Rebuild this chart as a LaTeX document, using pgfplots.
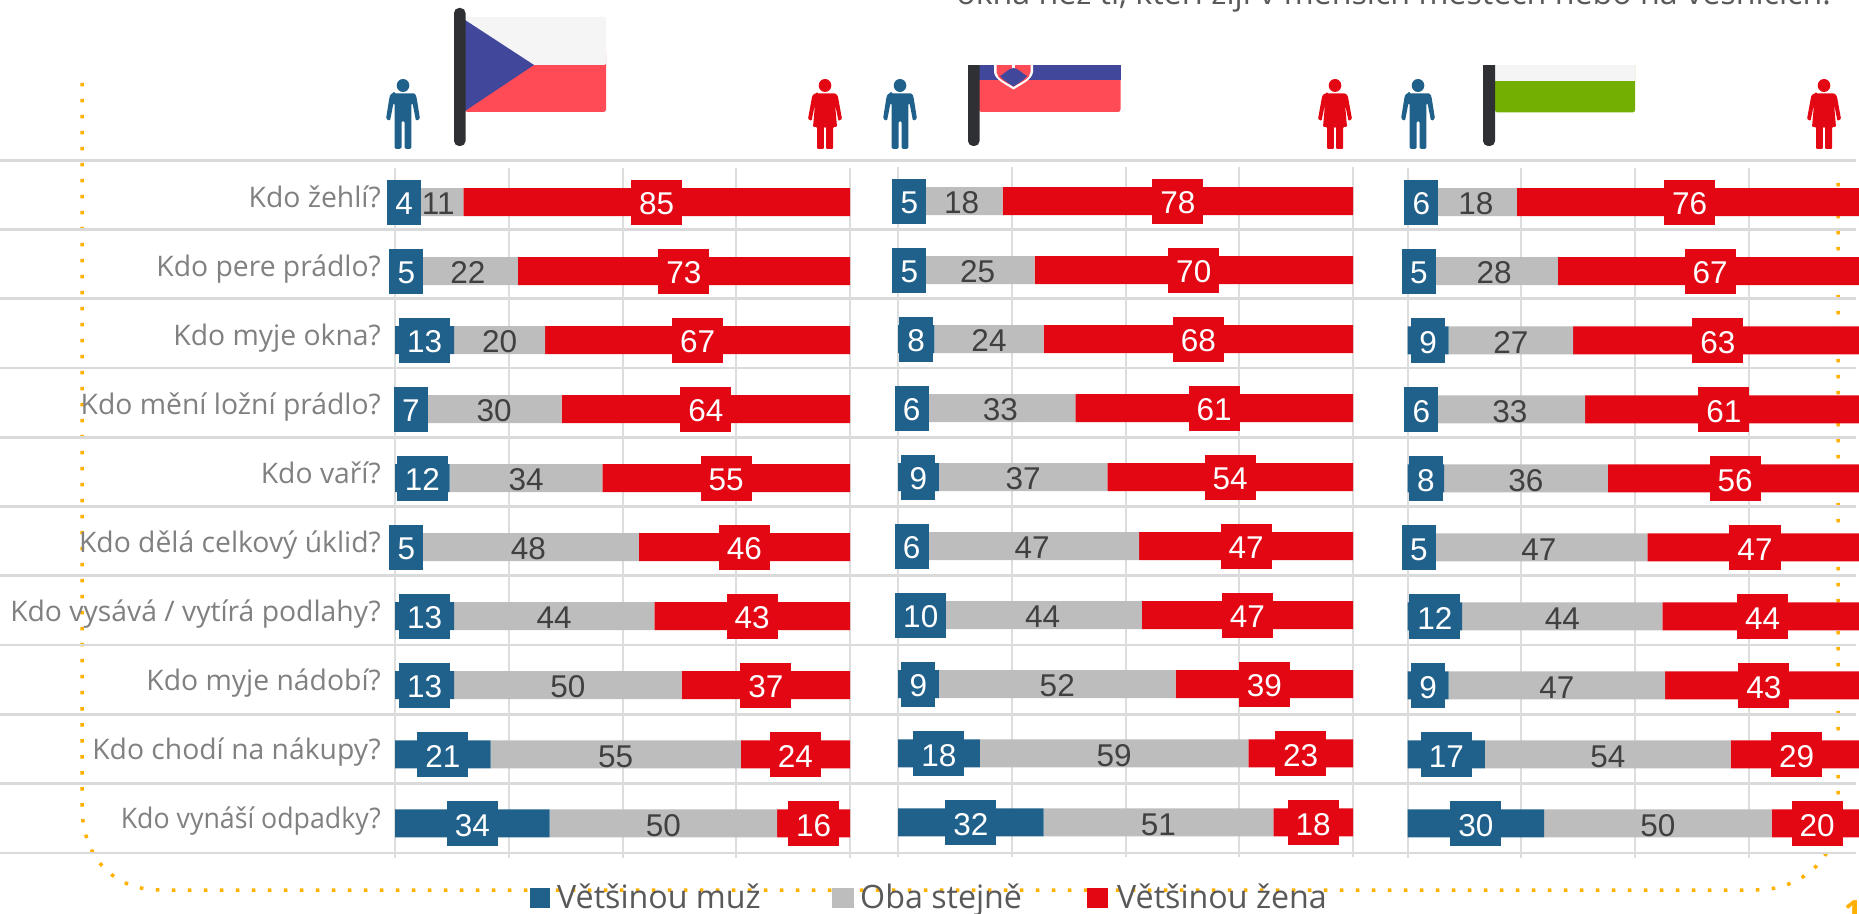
\documentclass[border=0pt]{standalone}
\usepackage{graphicx}
\usepackage{pgfplots}
\usepackage{pgfplotstable}
\usepackage{fontspec}
\pgfplotsset{compat=1.18}
\setmainfont{Open Sans}
\newfontfamily\arial{Liberation Sans}
\definecolor{cblue}{HTML}{20618C}
\definecolor{cred}{HTML}{E30613}
\definecolor{cgray}{HTML}{BDBDBD}
\definecolor{cgrid}{HTML}{DDDDDD}
\definecolor{chl}{HTML}{DADADA}
\definecolor{cdot}{HTML}{FFB000}
\definecolor{fblue}{HTML}{41479B}
\definecolor{fred}{HTML}{FF4B55}
\definecolor{fwhite}{HTML}{F5F5F5}
\definecolor{fgreen}{HTML}{73AF00}
\definecolor{fpole}{HTML}{2E3033}
\pgfplotstableread{
r b g s lb lg ls
1 4 11 85 4 11 85
2 5 22 73 5 22 73
3 13 20 67 13 20 67
4 7 29.6 63.4 7 30 64
5 12 33.6 54.4 12 34 55
6 5 48.6 46.4 5 48 46
7 13 44 43 13 44 43
8 13 50 37 13 50 37
9 21 55 24 21 55 24
10 34 50 16 34 50 16
}\tableCZ
\pgfplotstableread{
r b g s lb lg ls
1 5 18 77 5 18 78
2 5 25 70 5 25 70
3 8 24 68 8 24 68
4 6 33 61 6 33 61
5 9 37 54 9 37 54
6 6 47 47 6 47 47
7 10 43.6 46.4 10 44 47
8 9 52 39 9 52 39
9 18 59 23 18 59 23
10 32 50.5 17.5 32 51 18
}\tableSK
\pgfplotstableread{
r b g s lb lg ls
1 6 18 76 6 18 76
2 5 28 67 5 28 67
3 9 27.4 63.6 9 27 63
4 6 33 61 6 33 61
5 8 36 56 8 36 56
6 5 47.7 47.3 5 47 47
7 12 44 44 12 44 44
8 9 47.6 43.4 9 47 43
9 17 54 29 17 54 29
10 30 50 20 30 50 20
}\tableHU
\pgfplotsset{
  panel/.style={
    xbar stacked, scale only axis, width=455pt, height=690.3pt, anchor=south west,
    xmin=0, xmax=100, ymin=0.5, ymax=10.5, y dir=reverse, clip=false,
    bar width=28pt, axis line style={draw=none}, major tick length=0pt,
    xtick={0,25,50,75,100}, xticklabels={}, xmajorgrids,
    grid style={draw=cgrid, line width=2pt},
    ytick={1,...,10}, yticklabels={},
    point meta=explicit symbolic,
    nodes near coords,
  },
  seg2/.style={
    fill=#1, draw=none,
    every node near coord/.append style={anchor=center,
      font=\arial\fontsize{31.5}{36}\selectfont, text=white, fill=#1,
      inner xsep=8pt, inner ysep=0pt, minimum height=45pt, minimum width=34pt, text height=25.5pt, text depth=0pt},
  },
  seggray/.style={
    fill=cgray, draw=none,
    every node near coord/.append style={anchor=center,
      font=\arial\fontsize{31.5}{36}\selectfont, text=black!75,
      inner xsep=0pt, inner ysep=0pt, minimum height=45pt, text height=25.5pt, text depth=0pt},
  },
}
\newcommand{\threebars}[1]{%
  \addplot[seg2=cblue] table[x=b,y=r,meta=lb]{#1};
  \addplot[seggray] table[x=g,y=r,meta=lg]{#1};
  \addplot[seg2=cred] table[x=s,y=r,meta=ls]{#1};
}
\newcommand{\man}[1]{\begin{scope}[shift={(#1,0)}]
  \fill[cblue] (0,85.5) ellipse (6.3 and 6.5);
  \fill[cblue,rounded corners=1.5pt] (-9,93.3) -- (9,93.3) to[out=0,in=110] (13.5,97) -- (17,119) -- (13,121) -- (9.5,103) -- (8.3,103) -- (8.3,149) -- (1.5,149) -- (1.5,121) -- (-1.5,121) -- (-1.5,149) -- (-8.3,149) -- (-8.3,103) -- (-9.5,103) -- (-13,121) -- (-17,119) -- (-13.5,97) to[out=70,in=180] (-9,93.3) -- cycle;
\end{scope}}
\newcommand{\woman}[1]{\begin{scope}[shift={(#1,0)}]
  \fill[cred] (0,85.5) ellipse (6.3 and 6.5);
  \fill[cred,rounded corners=1pt] (-8,93.3) -- (8,93.3) to[out=0,in=110] (13,97) -- (17,119) -- (13.5,121) -- (10,104) -- (12,127) -- (8,127) -- (8,149) -- (1.2,149) -- (1.2,127) -- (-1.2,127) -- (-1.2,149) -- (-8,149) -- (-8,127) -- (-12,127) -- (-10,104) -- (-13.5,121) -- (-17,119) -- (-13,97) to[out=70,in=180] (-8,93.3) -- cycle;
\end{scope}}
\begin{document}
\begin{tikzpicture}[x=1pt,y=1pt]
\path[use as bounding box,clip] (0,0) rectangle (1859pt,913pt);
\begin{scope}[shift={(0pt,913pt)},x=1pt,y=-1pt]
  % title fragment
  \node[anchor=base east,inner sep=0pt,text=black!65,font=\fontsize{32.2}{36}\selectfont] at (1831,5) {okna než ti, kteří žijí v menších městech nebo na vesnicích.};
  % dotted frame
  \draw[cdot,line width=3.5pt,dash pattern=on 3.5pt off 12.5pt]
    (82,83) -- (82,810) .. controls (84,860) and (115,890) .. (160,890) -- (1756,890) .. controls (1800,890) and (1838,860) .. (1838,810) -- (1838,182);
  % horizontal rules
  \foreach \yy in {160.3,229.6,298.9,368.1,437.4,506.6,575.9,645.1,714.4,783.7,853}
    \draw[chl,line width=2.8pt] (0,\yy) -- (1856,\yy);
  % flags
  \fill[fred,rounded corners=2.5pt] (465,50) -- (606,50) -- (606,112) -- (465,112) -- cycle;
  \fill[fwhite,rounded corners=2pt] (465,65) -- (465,17) -- (606,17) -- (606,65) -- cycle;
  \fill[fblue] (465,20) -- (534,65) -- (465,111) -- cycle;
  \fill[fpole,rounded corners=5pt] (454,8) rectangle (465.5,146);
  \begin{scope}
    \clip (960,66) rectangle (1125,150);
    \fill[fred,rounded corners=2.5pt] (979,60) -- (1120.5,60) -- (1120.5,112) -- (979,112) -- cycle;
    \fill[fblue] (979,60) rectangle (1120.5,80);
    \fill[white] (994,60) -- (1033,60) -- (1033,72) .. controls (1032,80) and (1022,84) .. (1013.5,89.5) .. controls (1005,84) and (995,80) .. (994,72) -- cycle;
    \fill[fred] (996.5,60) -- (1030.5,60) -- (1030.5,72) .. controls (1030,79) and (1021,82) .. (1013.5,86.8) .. controls (1006,82) and (997,79) .. (996.5,72) -- cycle;
    \fill[white] (1012,60) rectangle (1015,70);
    \fill[fblue] (1000,76) .. controls (1004,74) and (1005,72) .. (1007,71) .. controls (1009,70) and (1011,68) .. (1013.5,68) .. controls (1016,68) and (1018,70) .. (1020,71) .. controls (1022,72) and (1023,74) .. (1027,76) .. controls (1024,80) and (1019,83) .. (1013.5,86.5) .. controls (1008,83) and (1003,80) .. (1000,76) -- cycle;
    \fill[fpole,rounded corners=5pt] (968,40) rectangle (979.5,146);
  \end{scope}
  \begin{scope}
    \clip (1475,66) rectangle (1640,150);
    \fill[fgreen,rounded corners=2.5pt] (1495,60) -- (1635,60) -- (1635,112.5) -- (1495,112.5) -- cycle;
    \fill[fwhite] (1495,60) rectangle (1635,81);
    \fill[fpole,rounded corners=5pt] (1483,40) rectangle (1495,146);
  \end{scope}
  \man{403}\woman{825}\man{900}\woman{1335}\man{1418}\woman{1824}
  % legend
  \fill[cblue] (530,888) rectangle (550,908);
  \fill[cgray] (832,888) rectangle (854,908);
  \fill[cred] (1087,888) rectangle (1108,908);
  \foreach \xx/\tt in {557/Většinou muž,860/Oba stejně,1117/Většinou žena}
    \node[anchor=base west,inner sep=0pt,text=black!65,font=\fontsize{32.2}{36}\selectfont] at (\xx,908) {\tt};
  \node[anchor=base,inner sep=0pt,text=cdot,font=\bfseries\fontsize{32}{36}\selectfont] at (1853,923) {1};
\end{scope}
\begin{axis}[panel, at={(395pt,55.2pt)},
  yticklabels={Kdo žehlí?,Kdo pere prádlo?,Kdo myje okna?,Kdo mění ložní prádlo?,Kdo vaří?,Kdo dělá celkový úklid?,Kdo vysává / vytírá podlahy?,Kdo myje nádobí?,Kdo chodí na nákupy?,\scalebox{0.944}[1]{Kdo vynáší odpadky?}},
  yticklabel style={anchor=base east,inner sep=0pt,xshift=-14pt,yshift=-5.5pt,text=black!50,font=\fontsize{28.3}{32}\selectfont}]
\threebars{\tableCZ}
\end{axis}
\begin{axis}[panel, at={(898pt,56.2pt)}]
\threebars{\tableSK}
\end{axis}
\begin{axis}[panel, at={(1407.6pt,55pt)}]
\threebars{\tableHU}
\end{axis}
\end{tikzpicture}
\end{document}
